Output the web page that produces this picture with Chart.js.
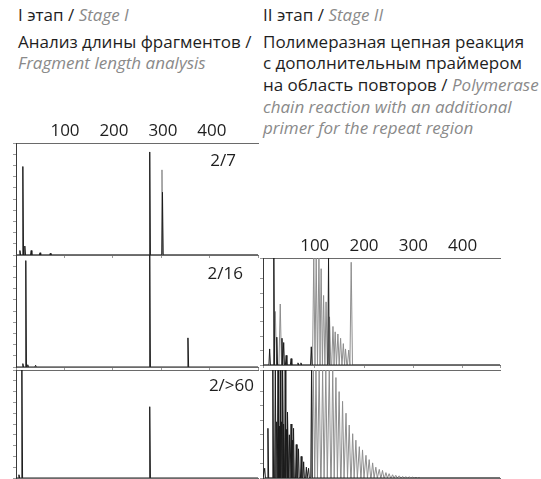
<!DOCTYPE html>
<html>
<head>
<meta charset="utf-8">
<script src="https://cdn.jsdelivr.net/npm/chart.js@4.4.1/dist/chart.umd.min.js"></script>
<style>
	body { margin: 0; background: #fff; width: 541px; height: 479px; position: relative; overflow: hidden; font-family: "Open Sans", sans-serif; }
	canvas { position: absolute; left: 0; top: 0; }
	.t { position: absolute; white-space: nowrap; font-size: 17px; line-height: 20px; color: #1e1e1e; }
	.t i { color: #8a8a8a; }
	.lbl { position: absolute; font-size: 17px; line-height: 20px; color: #1e1e1e; text-align: right; width: 60px; }
</style>
</head>
<body>
<div class="t" style="left:18px;top:5px">I этап / <i>Stage I</i></div>
<div class="t" style="left:18px;top:32px">Анализ длины фрагментов /</div>
<div class="t" style="left:18px;top:53px"><i>Fragment length analysis</i></div>

<div class="t" style="left:263px;top:5px">II этап / <i>Stage II</i></div>
<div class="t" style="left:263px;top:32px">Полимеразная цепная реакция</div>
<div class="t" style="left:263px;top:53px">с дополнительным праймером</div>
<div class="t" style="left:263px;top:75px">на область повторов / <i>Polymerase</i></div>
<div class="t" style="left:263px;top:97px"><i>chain reaction with an additional</i></div>
<div class="t" style="left:263px;top:118px"><i>primer for the repeat region</i></div>

<canvas id="l1" width="541" height="479"></canvas>
<canvas id="l2" width="541" height="479"></canvas>
<canvas id="l3" width="541" height="479"></canvas>
<canvas id="r1" width="541" height="479"></canvas>
<canvas id="r2" width="541" height="479"></canvas>

<div class="lbl" style="left:176px;top:150px">2/7</div>
<div class="lbl" style="left:183px;top:263px">2/16</div>
<div class="lbl" style="left:194px;top:375px">2/&gt;60</div>

<script>
// tick labels of the fragment length axis
const sizeTicks = [100, 200, 300, 400];

// stage I, peak positions (bp) and heights (% of panel)
const l1DarkPos = [8, 14, 18, 31, 49, 70, 273, 299];
const l1DarkHt = [4, 79, 8, 4, 2, 1.5, 92, 56];
const l1GrayPos = [298];
const l1GrayHt = [76];

const l2DarkPos = [14, 20, 24, 40, 273, 351];
const l2DarkHt = [3, 95, 2, 1.5, 100, 26];

const l3DarkPos = [6, 12, 273];
const l3DarkHt = [3, 100, 66];

// stage II
const r1DarkPos = [8.5, 17, 23, 33.5, 37, 42, 52, 66, 72, 93, 128];
const r1DarkHt = [15, 100, 26, 25, 21, 9, 6, 2, 2, 17, 100];
const r1GrayPos = [20, 30, 98, 103, 108.5, 113, 118, 123, 130, 137, 141.5, 147, 152.5, 158, 162.5, 169, 174];
const r1GrayHt = [50, 57, 100, 100, 100, 90, 65, 59, 45, 36, 31, 29, 25, 20, 15, 14, 96];

const r2DarkPos = [-1.6, 5, 15, 20, 22.5, 25.5, 27.5, 30, 32.5, 35.5, 37.5, 40, 42.5, 45.5, 48.5, 52, 55, 57, 62.5, 67, 72.5, 77.5, 83, 87.5, 93.5];
const r2DarkHt = [9, 46, 100, 100, 52, 100, 48, 100, 52, 100, 50, 100, 45, 61, 40, 50, 35, 46, 31, 27, 20, 15, 10, 9, 100];
const r2GrayPos = [97, 102.5, 109, 116, 122.5, 129.5, 136.5, 143, 149.5, 156.5, 163.5, 170, 177, 183.5, 190.5, 197, 204, 210.5, 217.5, 224, 231, 237.5, 244.5, 251, 258, 264.5, 271.5, 278.5, 285, 292, 298.5, 305.5, 312];
const r2GrayHt = [100, 100, 100, 100, 100, 100, 100, 93, 80, 71, 60, 49, 41, 35, 29, 26, 21, 17, 14, 10, 8, 7, 5, 4, 3, 2.5, 2, 1.5, 1.2, 1, 0.8, 0.6, 0.5];

const DARK = "#1c1c1c";
const GRAY = "#8e8e8e";
const FONT = "'Open Sans', sans-serif";
const TOP_AXIS = 26; // room for the size labels above a panel

// each peak becomes a narrow spike on the baseline
function spikes(pos, ht, w, xMin, xMax) {
	const pts = [{ x: xMin, y: 0 }];
	pos.forEach((p, i) => {
		pts.push({ x: p - w, y: 0 }, { x: p, y: ht[i] }, { x: p + w, y: 0 });
	});
	pts.push({ x: xMax, y: 0 });
	return pts;
}

function panel(id, box, xMin, xMax, series, showTicks, yStep) {
	new Chart(document.getElementById(id), {
		type: "line",
		data: {
			datasets: series.map((s) => ({
				data: spikes(s.pos, s.ht, s.w, xMin, xMax),
				borderColor: s.color,
				borderWidth: 1,
				pointRadius: 0,
				tension: 0,
				fill: false,
				order: s.order,
			})),
		},
		options: {
			responsive: false,
			animation: false,
			events: [],
			layout: {
				padding: { left: box[0], right: 541 - box[1], top: box[2] - TOP_AXIS, bottom: 479 - box[3] },
			},
			plugins: { legend: { display: false }, tooltip: { enabled: false } },
			scales: {
				x: {
					type: "linear",
					min: xMin,
					max: xMax,
					afterFit: (s) => { s.height = 0; },
					ticks: { display: false, stepSize: 100 },
					grid: { drawOnChartArea: false, tickLength: 3, color: "#9a9a9a" },
					border: { color: "#6a6a6a" },
				},
				xTop: {
					type: "linear",
					position: "top",
					min: xMin,
					max: xMax,
					afterFit: (s) => { s.height = TOP_AXIS; },
					afterBuildTicks: (s) => { s.ticks = sizeTicks.map((v) => ({ value: v })); },
					ticks: { display: showTicks, padding: 2, color: "#1e1e1e", font: { size: 17, family: FONT } },
					grid: { display: false, drawTicks: false },
					border: { color: "#6a6a6a" },
				},
				y: {
					min: 0,
					max: 100,
					afterFit: (s) => { s.width = 0; },
					ticks: { display: false, stepSize: yStep },
					grid: { drawOnChartArea: false, tickLength: 3, color: "#9a9a9a" },
					border: { color: "#3a3a3a" },
				},
			},
		},
	});
}

panel("l1", [16, 258, 143, 255], 0, 494, [
	{ pos: l1GrayPos, ht: l1GrayHt, w: 1.6, color: GRAY, order: 2 },
	{ pos: l1DarkPos, ht: l1DarkHt, w: 1.4, color: DARK, order: 1 },
], true, 10);
panel("l2", [16, 258, 255, 367], 0, 494, [
	{ pos: l2DarkPos, ht: l2DarkHt, w: 1.4, color: DARK, order: 1 },
], false, 10);
panel("l3", [16, 258, 370, 478], 0, 494, [
	{ pos: l3DarkPos, ht: l3DarkHt, w: 1.4, color: DARK, order: 1 },
], false, 10);
panel("r1", [263, 500, 258, 365], -5, 476, [
	{ pos: r1GrayPos, ht: r1GrayHt, w: 2.6, color: GRAY, order: 2 },
	{ pos: r1DarkPos, ht: r1DarkHt, w: 1.5, color: DARK, order: 1 },
], true, 13.4);
panel("r2", [263, 500, 370, 478], -5, 476, [
	{ pos: r2GrayPos, ht: r2GrayHt, w: 3.0, color: GRAY, order: 2 },
	{ pos: r2DarkPos, ht: r2DarkHt, w: 1.5, color: DARK, order: 1 },
], false, 13.4);
</script>
</body>
</html>
